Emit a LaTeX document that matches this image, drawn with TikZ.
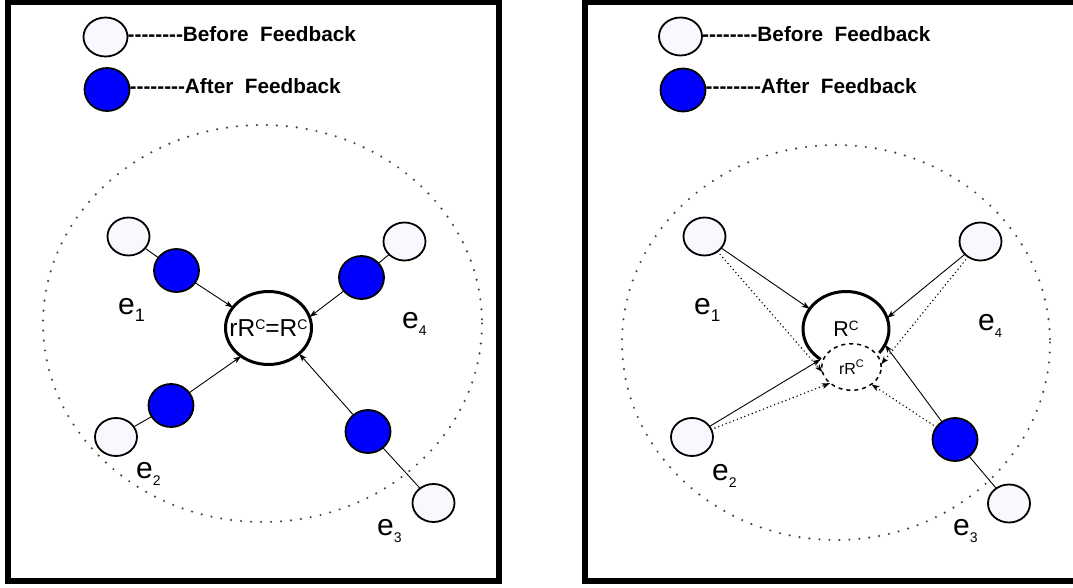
\documentclass[tikz,border=0pt]{standalone}
\usepackage{fontspec}
\setmainfont{Liberation Sans}
\usetikzlibrary{arrows.meta,shapes.geometric}
\definecolor{nodewhite}{HTML}{F8F8FF}
\definecolor{nodeblue}{HTML}{0000FF}
\definecolor{dotc}{HTML}{4B4A2F}
\newcommand\hyrow{\mbox{-}\mbox{-}\mbox{-}\mbox{-}\mbox{-}\mbox{-}\mbox{-}\mbox{-}}
\newcommand\fs[1]{\fontsize{#1}{#1}\selectfont}
\newcommand\elab[2]{\fs{30}e\raisebox{-7.5pt}{\fs{#2}#1}}
\begin{document}
\begin{tikzpicture}[x=1pt,y=-1pt,
 wnode/.style={draw, line width=1.8pt, fill=nodewhite, ellipse, inner sep=0pt, outer sep=0pt, minimum width=42pt, minimum height=38pt},
 bnode/.style={draw, line width=1.8pt, fill=nodeblue, ellipse, inner sep=0pt, outer sep=0pt, minimum width=45pt, minimum height=43pt},
 frame/.style={line width=6pt},
 region/.style={dotc, line width=2.4pt, line cap=round, dash pattern=on 0pt off 10pt},
 conn/.style={line width=0.9pt},
 arr/.style={conn, -{Stealth[length=8pt,width=5.5pt,inset=2pt]}},
 darr/.style={arr, line cap=round, line width=1.6pt, dash pattern=on 0pt off 4pt},
 legtext/.style={anchor=base west, inner sep=0pt, font=\fs{20.75}\bfseries},
 elabel/.style={anchor=base west, inner sep=0pt},
 center/.style={draw, ellipse, line width=3pt, inner sep=0pt, outer sep=0pt, fill=white},
]
\useasboundingbox (0,0) rectangle (1073,588);
% frames
\draw[frame] (8,2.5) rectangle (499,580.5);
\draw[frame] (584.5,2.5) rectangle (1076,580.5);

% ---------------- left panel ----------------
\node[wnode, minimum width=44pt, minimum height=39pt] (lgw) at (105.5,37) {};
\node[legtext] (lgwt) at ([yshift=-5pt]lgw.east) {\hyrow Before\ \ Feedback};
\node[bnode] (lgb) at (107,89.5) {};
\node[legtext] (lgbt) at ([yshift=-4pt]lgb.east) {\hyrow After\ \ Feedback};

\draw[region] (262.5,323.5) ellipse [x radius=219.5, y radius=198.5];

\node[center, minimum width=86pt, minimum height=73pt] (c) at (268.5,328) {};
\node[inner sep=0pt] (ctext) at (c.center) {\fs{24.5}rR\raisebox{7.5pt}{\fs{14}C}=R\raisebox{7.5pt}{\fs{14}C}};

\node[wnode] (w1) at (128.5,236.5) {};
\node[bnode] (b1) at (176.5,270.5) {};
\node[wnode] (w4) at (404.5,241.5) {};
\node[bnode] (b4) at (361.5,277.5) {};
\node[bnode] (b2) at (171,405.5) {};
\node[wnode] (w2) at (116,437) {};
\node[bnode] (b3) at (368,431.5) {};
\node[wnode] (w3) at (433.5,503) {};

\draw[conn] (w1) -- (b1);
\draw[conn] (w4) -- (b4);
\draw[conn] (w2) -- (b2);
\draw[conn] (w3) -- (b3);
\draw[arr] (b1) -- (c.150);
\draw[arr] (b4) -- (c.15);
\draw[arr] (b2) -- (c.226);
\draw[arr] (b3) -- (c.-40);

\node[elabel] (le1) at (118,314) {\elab{1}{18}};
\node[elabel] (le4) at (402,328) {\elab{4}{14}};
\node[elabel] (le2) at (136,478) {\elab{2}{14}};
\node[elabel] (le3) at (377,535) {\elab{3}{14}};

% ---------------- right panel ----------------
\node[wnode, minimum width=43pt, minimum height=38pt] (rlgw) at (680.5,36.5) {};
\node[legtext] (rlgwt) at ([yshift=-5pt]rlgw.east) {\hyrow Before\ \ Feedback};
\node[bnode] (rlgb) at (683,90) {};
\node[legtext] (rlgbt) at ([yshift=-4pt]rlgb.east) {\hyrow After\ \ Feedback};

\draw[region] (836,342.5) ellipse [x radius=214, y radius=197.5];

\node[ellipse, inner sep=0pt, outer sep=0pt, minimum width=86pt, minimum height=75pt] (rc) at (846,329) {\fs{21.5}R\raisebox{6.5pt}{\fs{13.5}C}};
\node[draw, ellipse, line width=1.5pt, dash pattern=on 4pt off 4pt, inner sep=0pt, outer sep=0pt, minimum width=59.5pt, minimum height=46.5pt] (rr) at (851.5,367) {\fs{16}rR\raisebox{6.5pt}{\fs{11}C}};
\coordinate (rcL) at ([shift={(126:43 and 37.5)}]rc.center);
\draw[line width=3pt] (rcL) arc[start angle=126, end angle=399.5, x radius=43, y radius=37.5];

\node[wnode] (rw1) at (704.5,236.5) {};
\node[wnode] (rw4) at (980.5,241.5) {};
\node[wnode] (rw2) at (692,437) {};
\node[bnode] (rb3) at (955,439.5) {};
\node[wnode] (rw3) at (1009,503.5) {};

\draw[conn] (rb3) -- (rw3);
\draw[arr] (rw1) -- (rc.151);
\draw[arr] (rw4) -- (rc.15);
\draw[arr] (rw2) -- (rcL);
\draw[arr] (rb3) -- (rc.-22);
\draw[darr] (rw1) -- (rr.190);
\draw[darr] (rw4) -- (rr.5);
\draw[darr] (rw2) -- (rr.217);
\draw[darr] (rb3) -- (rr.-41);

\node[elabel] (re1) at (694,314) {\elab{1}{17}};
\node[elabel] (re4) at (978,330) {\elab{4}{13}};
\node[elabel] (re2) at (712,480) {\elab{2}{14}};
\node[elabel] (re3) at (953,535) {\elab{3}{14}};
\end{tikzpicture}
\end{document}
